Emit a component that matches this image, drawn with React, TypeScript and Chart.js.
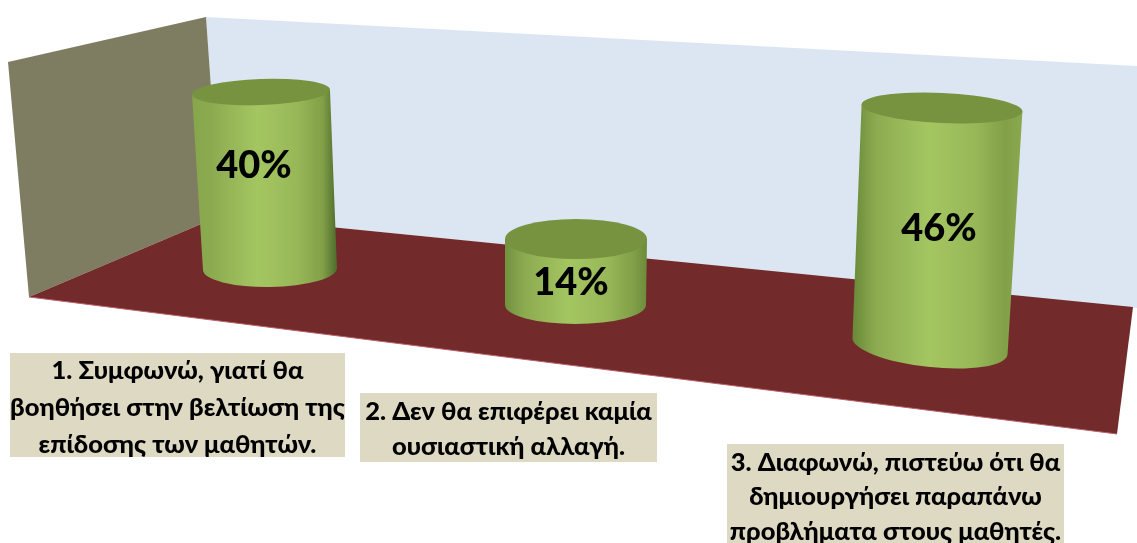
import React, { useEffect, useRef } from "react";
import { Chart, registerables } from "chart.js";

Chart.register(...registerables);

// ---- data ----
const categories: string[][] = [
  ["1. Συμφωνώ, γιατί θα", "βοηθήσει στην βελτίωση της", "επίδοσης των μαθητών."],
  ["2. Δεν θα επιφέρει καμία", "ουσιαστική αλλαγή."],
  ["3. Διαφωνώ, πιστεύω ότι θα", "δημιουργήσει παραπάνω", "προβλήματα στους μαθητές."],
];
const percentages: number[] = [40, 14, 46];

// ---- layout / style ----
const W = 1137;
const H = 543;
const FONT = '"Lato", "Noto Sans", "Open Sans", sans-serif';

const cylinders = [
  { topY: 92, botY: 269, topDx: -4, botDx: 5, topW: 138, botW: 134, topRy: 13, botRy: 18, topRot: -0.035, botRot: -0.015,
    edgeL: "#86a64c", edgeR: "#4f6c2b", labelX: 254, labelY: 166 },
  { topY: 239, botY: 305, topDx: -24, botDx: -24.5, topW: 142, botW: 141, topRy: 20, botRy: 19, topRot: 0, botRot: 0,
    edgeL: "#72913f", edgeR: "#6d8c3b", labelX: 571, labelY: 283 },
  { topY: 108, botY: 346, topDx: 7, botDx: -5, topW: 161, botW: 156, topRy: 15, botRy: 21, topRot: 0.045, botRot: 0.11,
    edgeL: "#688838", edgeR: "#8aa94e", labelX: 939, labelY: 229 },
];

const boxes = [
  { x: 10, y: 353, w: 335, h: 104, lines: [371, 408, 445] },
  { x: 360, y: 393, w: 297, h: 69, lines: [412, 447] },
  { x: 727, y: 444, w: 337, h: 99, lines: [463, 497, 532] },
];

function pixelAxis(bot: number, top: number, value: number) {
  const k = (bot - top) / value;
  return { type: "linear" as const, display: false, min: (bot - H) / k, max: bot / k };
}

function poly(ctx: CanvasRenderingContext2D, pts: number[][], fill: string | CanvasGradient) {
  ctx.beginPath();
  pts.forEach((p, i) => (i ? ctx.lineTo(p[0], p[1]) : ctx.moveTo(p[0], p[1])));
  ctx.closePath();
  ctx.fillStyle = fill;
  ctx.fill();
}

const scenePlugin = {
  id: "scene",
  beforeDatasetsDraw(chart: any) {
    const ctx: CanvasRenderingContext2D = chart.ctx;
    ctx.save();
    poly(ctx, [[206, 17], [1137, 66], [1137, 308], [220, 216]], "#dce6f2");
    poly(ctx, [[8, 62], [206, 17], [220, 216], [29, 297]], "#7f7d61");
    poly(ctx, [[29, 297], [220, 216], [1133, 307], [1117, 434]], "#722a2a");
    ctx.beginPath();
    ctx.moveTo(29, 297);
    ctx.lineTo(1117, 434);
    ctx.strokeStyle = "#b8606a";
    ctx.lineWidth = 1;
    ctx.stroke();
    ctx.restore();
  },
  beforeDatasetDraw(chart: any, args: any) {
    const ctx: CanvasRenderingContext2D = chart.ctx;
    const c = cylinders[args.index];
    const bar = chart.getDatasetMeta(args.index).data[args.index] as any;
    const tx = bar.x + c.topDx;
    const bx = bar.x + c.botDx;
    const trx = c.topW / 2;
    const brx = c.botW / 2;
    const tcos = Math.cos(c.topRot), tsin = Math.sin(c.topRot);
    const bcos = Math.cos(c.botRot), bsin = Math.sin(c.botRot);
    ctx.save();
    const left = Math.min(tx - trx, bx - brx);
    const right = Math.max(tx + trx, bx + brx);
    const g = ctx.createLinearGradient(left, 0, right, 0);
    g.addColorStop(0, c.edgeL);
    g.addColorStop(0.14, "#8cab50");
    g.addColorStop(0.45, "#a4c661");
    g.addColorStop(0.72, "#98b858");
    g.addColorStop(0.9, "#81a048");
    g.addColorStop(1, c.edgeR);
    ctx.beginPath();
    ctx.moveTo(tx - trx * tcos, bar.y - trx * tsin);
    ctx.lineTo(bx - brx * bcos, bar.base - brx * bsin);
    ctx.ellipse(bx, bar.base, brx, c.botRy, c.botRot, Math.PI, 0, true);
    ctx.lineTo(tx + trx * tcos, bar.y + trx * tsin);
    ctx.closePath();
    ctx.fillStyle = g;
    ctx.fill();
    ctx.beginPath();
    ctx.ellipse(tx, bar.y, trx, c.topRy, c.topRot, 0, Math.PI * 2);
    ctx.fillStyle = "#77933f";
    ctx.fill();
    ctx.restore();
    return false;
  },
  afterDatasetsDraw(chart: any) {
    const ctx: CanvasRenderingContext2D = chart.ctx;
    ctx.save();
    ctx.textAlign = "center";
    ctx.textBaseline = "middle";
    ctx.fillStyle = "#000";
    ctx.font = `900 38px ${FONT}`;
    percentages.forEach((v, i) => ctx.fillText(`${v}%`, cylinders[i].labelX, cylinders[i].labelY));
    const labels = chart.data.labels as string[][];
    boxes.forEach((b, i) => {
      ctx.fillStyle = "#ddd9c3";
      ctx.fillRect(b.x, b.y, b.w, b.h);
      ctx.fillStyle = "#000";
      ctx.font = `900 25.5px ${FONT}`;
      labels[i].forEach((t, j) => ctx.fillText(t, b.x + b.w / 2, b.lines[j]));
    });
    ctx.restore();
  },
};

export default function App() {
  const ref = useRef<HTMLCanvasElement>(null);
  useEffect(() => {
    document.body.style.margin = "0";
    const chart = new Chart(ref.current!, {
      type: "bar",
      data: {
        labels: categories as any,
        datasets: percentages.map((v, i) => ({
          label: `${v}%`,
          data: percentages.map((p, j) => (j === i ? p : null)),
          yAxisID: `y${i}`,
          grouped: false,
          barThickness: cylinders[i].topW,
          backgroundColor: "#9bbb59",
        })) as any,
      },
      options: {
        responsive: false,
        animation: false,
        layout: { padding: { left: 97.5, right: 34.5, top: 0, bottom: 0 } },
        plugins: { legend: { display: false }, title: { display: false }, tooltip: { enabled: false } },
        scales: {
          x: { type: "category", display: false, offset: true },
          y0: pixelAxis(cylinders[0].botY, cylinders[0].topY, percentages[0]),
          y1: pixelAxis(cylinders[1].botY, cylinders[1].topY, percentages[1]),
          y2: pixelAxis(cylinders[2].botY, cylinders[2].topY, percentages[2]),
        },
      },
      plugins: [scenePlugin],
    });
    return () => chart.destroy();
  }, []);
  return <canvas ref={ref} width={W} height={H} style={{ display: "block" }} />;
}
